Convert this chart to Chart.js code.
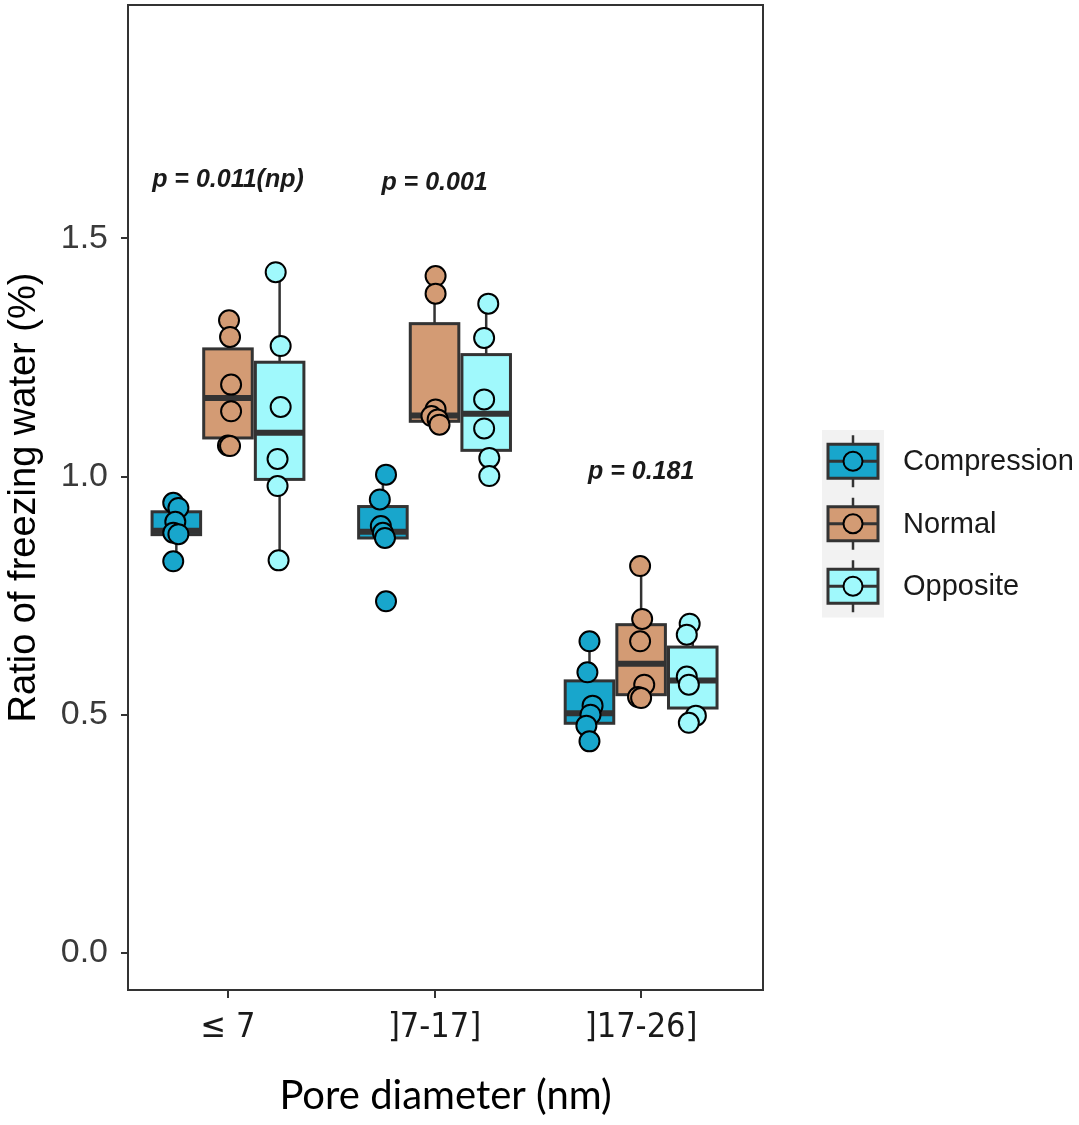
<!DOCTYPE html>
<html>
<head>
<meta charset="utf-8">
<script src="https://cdn.jsdelivr.net/npm/chart.js@4.4.0/dist/chart.umd.min.js"></script>
<style>
  html, body { margin: 0; padding: 0; background: #fff; }
  #wrap { width: 1079px; height: 1125px; position: relative; }
</style>
</head>
<body>
<div id="wrap"><canvas id="boxChart"></canvas></div>
<script>
const categories = ["≤ 7", "]7-17]", "]17-26]"];
const seriesNames = ["Compression", "Normal", "Opposite"];
const seriesColors = ["#18a6cc", "#d39b74", "#a0f9fc"];
const yTicks = [0, 0.5, 1.0, 1.5];

// individual samples per pore class
const compressionValues = [
  [0.945, 0.934, 0.905, 0.882, 0.879, 0.822],
  [1.004, 0.952, 0.896, 0.882, 0.871, 0.738],
  [0.654, 0.589, 0.519, 0.500, 0.477, 0.444],
];
const normalValues = [
  [1.328, 1.293, 1.193, 1.137, 1.065, 1.064],
  [1.421, 1.384, 1.141, 1.127, 1.120, 1.109],
  [0.812, 0.701, 0.654, 0.563, 0.537, 0.535],
];
const oppositeValues = [
  [1.429, 1.274, 1.146, 1.037, 0.980, 0.824],
  [1.363, 1.291, 1.162, 1.101, 1.039, 1.001],
  [0.691, 0.668, 0.580, 0.563, 0.498, 0.483],
];

// horizontal jitter of each sample, in category units
const compressionJitter = [
  [-0.015, 0.010, -0.005, -0.015, 0.010, -0.015],
  [0.015, -0.015, -0.010, 0, 0.010, 0.015],
  [0, -0.010, 0.015, 0.005, -0.015, 0],
];
const normalJitter = [
  [0.005, 0.010, 0.015, 0.015, 0, 0.010],
  [0.005, 0.005, 0.005, -0.015, 0.015, 0.024],
  [-0.005, 0.005, -0.005, 0.015, -0.015, 0],
];
const oppositeJitter = [
  [-0.019, 0.005, 0.005, -0.010, -0.010, -0.005],
  [0.010, -0.010, -0.010, -0.010, 0.015, 0.015],
  [-0.015, -0.029, -0.029, -0.019, 0.015, -0.019],
];

// box stats: lower whisker, q1, median, q3, upper whisker
const compressionBoxes = [
  [0.822, 0.878, 0.886, 0.926, 0.945],
  [0.871, 0.871, 0.884, 0.937, 1.004],
  [0.444, 0.482, 0.503, 0.571, 0.654],
];
const normalBoxes = [
  [1.064, 1.081, 1.165, 1.268, 1.328],
  [1.109, 1.116, 1.128, 1.321, 1.421],
  [0.535, 0.542, 0.607, 0.689, 0.812],
];
const oppositeBoxes = [
  [0.824, 0.994, 1.092, 1.240, 1.429],
  [1.001, 1.055, 1.132, 1.256, 1.363],
  [0.483, 0.514, 0.572, 0.642, 0.691],
];

const pValueLabels = ["p = 0.011(np)", "p = 0.001", "p = 0.181"];
const pValueY = [1.622, 1.617, 1.010];

const allValues = [compressionValues, normalValues, oppositeValues];
const allJitter = [compressionJitter, normalJitter, oppositeJitter];
const allBoxes = [compressionBoxes, normalBoxes, oppositeBoxes];

const DODGE = [-0.25, 0, 0.25];
const BOX_W = 0.235;
const INK = "#333333";

function line(ctx, x1, y1, x2, y2) {
  ctx.beginPath();
  ctx.moveTo(x1, y1);
  ctx.lineTo(x2, y2);
  ctx.stroke();
}

const boxPlugin = {
  id: "boxes",
  beforeDatasetsDraw(chart) {
    const { ctx, scales: { x, y } } = chart;
    ctx.save();
    allBoxes.forEach((boxes, s) => {
      boxes.forEach((b, c) => {
        const cx = c + 1 + DODGE[s];
        const xl = x.getPixelForValue(cx - BOX_W / 2);
        const xr = x.getPixelForValue(cx + BOX_W / 2);
        const xm = x.getPixelForValue(cx);
        const [lo, q1, med, q3, hi] = b.map((v) => y.getPixelForValue(v));
        ctx.strokeStyle = INK;
        ctx.lineWidth = 2.5;
        line(ctx, xm, hi, xm, q3);
        line(ctx, xm, q1, xm, lo);
        ctx.fillStyle = seriesColors[s];
        ctx.fillRect(xl, q3, xr - xl, q1 - q3);
        ctx.lineWidth = 3;
        ctx.strokeRect(xl, q3, xr - xl, q1 - q3);
        ctx.lineWidth = 6;
        line(ctx, xl, med, xr, med);
      });
    });
    // p-value annotations
    ctx.fillStyle = "#1a1a1a";
    ctx.font = "italic bold 25px 'Liberation Sans', Arial, sans-serif";
    ctx.textAlign = "center";
    ctx.textBaseline = "middle";
    pValueLabels.forEach((t, c) => {
      ctx.fillText(t, x.getPixelForValue(c + 1), y.getPixelForValue(pValueY[c]));
    });
    ctx.restore();
  },
  afterDraw(chart) {
    const { ctx, chartArea: a } = chart;
    ctx.save();
    ctx.strokeStyle = INK;
    ctx.lineWidth = 2;
    ctx.strokeRect(a.left, a.top, a.right - a.left, a.bottom - a.top);

    // legend
    const keyLeft = a.right + 59;
    const keyW = 62;
    const rowH = 62.5;
    const top = 430;
    ctx.fillStyle = "#f2f2f2";
    ctx.fillRect(keyLeft, top, keyW, rowH * 3);
    seriesNames.forEach((name, i) => {
      const cy = top + rowH * i + rowH / 2;
      const cx = keyLeft + keyW / 2;
      ctx.strokeStyle = INK;
      ctx.lineWidth = 2.5;
      line(ctx, cx, cy - 26, cx, cy - 17);
      line(ctx, cx, cy + 17, cx, cy + 26);
      ctx.fillStyle = seriesColors[i];
      ctx.fillRect(cx - 25, cy - 17, 50, 34);
      ctx.lineWidth = 3;
      ctx.strokeRect(cx - 25, cy - 17, 50, 34);
      line(ctx, cx - 25, cy, cx + 25, cy);
      ctx.beginPath();
      ctx.arc(cx, cy, 9.5, 0, Math.PI * 2);
      ctx.fillStyle = seriesColors[i];
      ctx.fill();
      ctx.lineWidth = 2;
      ctx.strokeStyle = "#000";
      ctx.stroke();
      ctx.fillStyle = "#1a1a1a";
      ctx.font = "29px 'Liberation Sans', Arial, sans-serif";
      ctx.textAlign = "left";
      ctx.textBaseline = "middle";
      ctx.fillText(name, keyLeft + keyW + 19, cy + 1);
    });
    ctx.restore();
  },
};

const datasets = seriesNames.map((name, s) => ({
  label: name,
  data: allValues[s].flatMap((vals, c) =>
    vals.map((v, k) => ({ x: c + 1 + DODGE[s] + allJitter[s][c][k], y: v }))
  ),
  backgroundColor: seriesColors[s],
  borderColor: "#000",
  borderWidth: 2,
  pointRadius: 10,
  pointHoverRadius: 10,
}));

new Chart(document.getElementById("boxChart"), {
  type: "scatter",
  data: { datasets },
  options: {
    responsive: true,
    maintainAspectRatio: false,
    animation: false,
    layout: { autoPadding: false, padding: { top: 5, right: 316, bottom: 0, left: 0 } },
    plugins: { legend: { display: false }, tooltip: { enabled: false } },
    scales: {
      x: {
        type: "linear",
        min: 0.516,
        max: 3.59,
        afterBuildTicks: (axis) => {
          axis.ticks = categories.map((_, i) => ({ value: i + 1 }));
        },
        afterFit: (scale) => {
          scale.height = 135;
          scale.paddingLeft = 0;
          scale.paddingRight = 0;
        },
        grid: {
          drawOnChartArea: false,
          color: INK,
          lineWidth: 2,
          tickLength: 8,
        },
        border: { display: false },
        ticks: {
          padding: 10,
          color: "#1a1a1a",
          font: { family: "'Liberation Sans Narrow', 'DejaVu Sans Condensed', sans-serif", size: 34 },
          callback: (v) => categories[Math.round(v) - 1],
          maxRotation: 0,
        },
        title: {
          display: true,
          text: "Pore diameter (nm)",
          color: "#000",
          font: { family: "Lato, 'Open Sans', sans-serif", size: 40 },
          padding: { top: 0, bottom: 5 },
        },
      },
      y: {
        min: -0.078,
        max: 1.99,
        afterBuildTicks: (axis) => {
          axis.ticks = yTicks.map((v) => ({ value: v }));
        },
        afterFit: (scale) => {
          scale.width = 128;
          scale.paddingTop = 0;
          scale.paddingBottom = 0;
        },
        grid: {
          drawOnChartArea: false,
          color: INK,
          lineWidth: 2,
          tickLength: 7,
        },
        border: { display: false },
        ticks: {
          padding: 13,
          color: "#3a3a3a",
          font: { family: "'Liberation Sans', Arial, sans-serif", size: 34 },
          callback: (v) => v.toFixed(1),
        },
        title: {
          display: true,
          text: "Ratio of freezing water (%)",
          color: "#000",
          font: { family: "'Liberation Sans', Arial, sans-serif", size: 38 },
          padding: { top: 2, bottom: 0 },
        },
      },
    },
  },
  plugins: [boxPlugin],
});
</script>
</body>
</html>
